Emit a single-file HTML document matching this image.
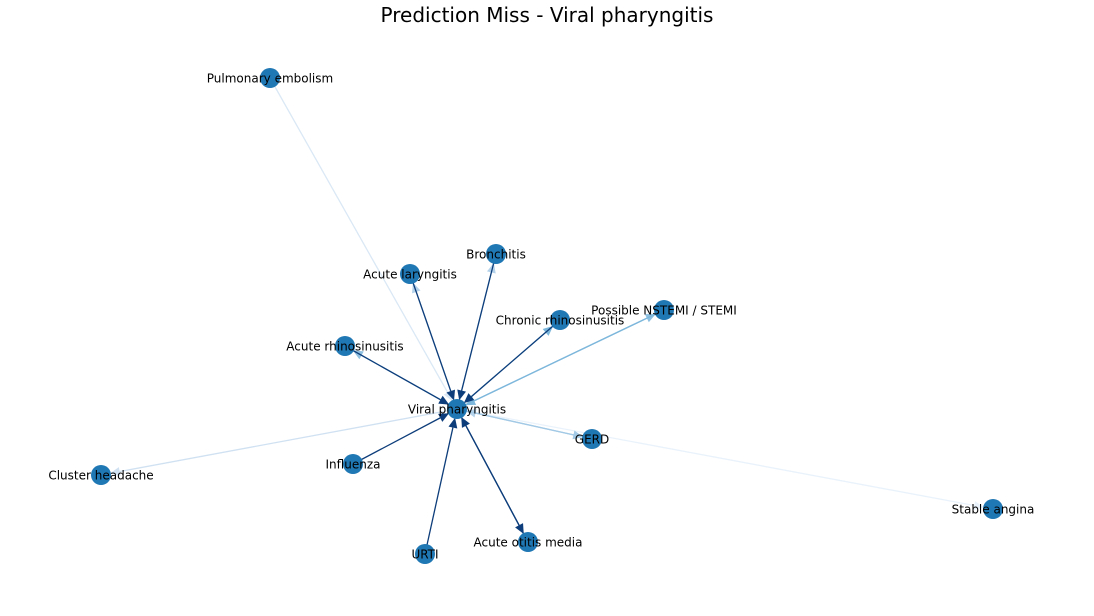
<!DOCTYPE html>
<html><head><meta charset="utf-8"><style>
body{margin:0;background:#fff;}
svg text{font-family:"DejaVu Sans","Liberation Sans",sans-serif;}
</style></head><body>
<svg id="g" width="1094" height="611" viewBox="0 0 1094 611">
<text x="547" y="22" text-anchor="middle" font-size="20" fill="#000">Prediction Miss - Viral pharyngitis</text>
<g id="edges"></g><g id="nodes"></g><g id="labels"></g>
</svg>
<script>
const nodeNames=["Viral pharyngitis","Pulmonary embolism","Bronchitis","Acute laryngitis","Chronic rhinosinusitis","Possible NSTEMI / STEMI","Acute rhinosinusitis","GERD","Cluster headache","Influenza","Stable angina","URTI","Acute otitis media"];
const nodeX=[457,270,496,410,560,664,345,592,101,353,993,425,528];
const nodeY=[409,78,254,274,320,310,346,439,475,464,509,554,542];
// edges: source index, target index, weight (0..1 -> color intensity)
const edgeSrc=[1,2,3,4,5,6,7,9,11,12,0,0,0,0,0,0,0,0,0];
const edgeTgt=[0,0,0,0,0,0,0,0,0,0,3,2,4,5,6,7,12,8,10];
const edgeW=[0.15,0.95,0.95,0.95,0.45,0.95,0.3,0.95,0.95,0.95,0.3,0.3,0.45,0.4,0.4,0.35,0.95,0.2,0.07];
const NS="http://www.w3.org/2000/svg";
const stops=[[0,[247,251,255]],[0.25,[198,219,239]],[0.5,[107,174,214]],[0.75,[33,113,181]],[1,[8,48,107]]];
function col(w){for(let k=1;k<stops.length;k++){if(w<=stops[k][0]){const [t0,a]=stops[k-1],[t1,b]=stops[k];const t=(w-t0)/(t1-t0);return `rgb(${a.map((v,i)=>Math.round(v+(b[i]-v)*t)).join(',')})`;}}return 'rgb(8,48,107)';}
const E=document.getElementById('edges'),N=document.getElementById('nodes'),L=document.getElementById('labels');
const order=edgeW.map((w,i)=>i).sort((a,b)=>edgeW[a]-edgeW[b]);
order.forEach(i=>{
 const s=edgeSrc[i],t=edgeTgt[i];const x1=nodeX[s],y1=nodeY[s],x2=nodeX[t],y2=nodeY[t];
 const dx=x2-x1,dy=y2-y1,d=Math.hypot(dx,dy),ux=dx/d,uy=dy/d;
 const ex=x2-ux*9,ey=y2-uy*9,bx=ex-ux*10,by=ey-uy*10;
 const c=col(edgeW[i]);
 const l=document.createElementNS(NS,'line');
 
 
 l.setAttribute('x1',x1);l.setAttribute('y1',y1);l.setAttribute('x2',bx);l.setAttribute('y2',by);
 l.setAttribute('stroke',c);l.setAttribute('stroke-width',1.3);E.appendChild(l);
 const p=document.createElementNS(NS,'polygon');
 
 
 p.setAttribute('points',`${ex},${ey} ${bx-uy*4.5},${by+ux*4.5} ${bx+uy*4.5},${by-ux*4.5}`);
 p.setAttribute('fill',c);E.appendChild(p);
});
nodeNames.forEach((n,i)=>{
 const c=document.createElementNS(NS,'circle');
 
 
 c.setAttribute('cx',nodeX[i]);c.setAttribute('cy',nodeY[i]);c.setAttribute('r',10);c.setAttribute('fill','#1f77b4');N.appendChild(c);
 const t=document.createElementNS(NS,'text');
 
 
 t.setAttribute('x',nodeX[i]);t.setAttribute('y',nodeY[i]+4.5);t.setAttribute('text-anchor','middle');t.setAttribute('font-size','12');
 t.textContent=n;L.appendChild(t);
});
</script>
</body></html>
